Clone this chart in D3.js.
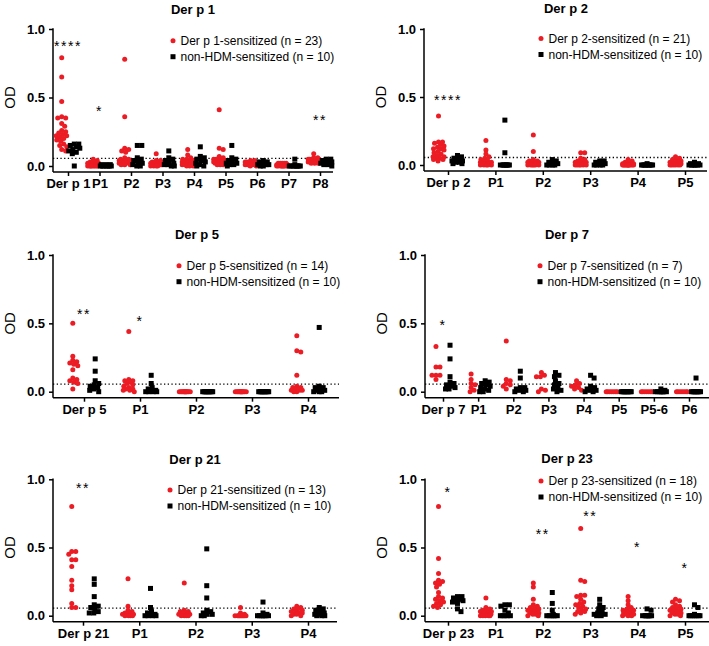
<!DOCTYPE html>
<html><head><meta charset="utf-8">
<script src="https://cdn.jsdelivr.net/npm/d3@7"></script>
<style>body{margin:0;background:#fff} svg{display:block}</style>
</head><body><svg id="chart" width="709" height="646"></svg>
<script>
// ---------------- DATA ----------------
const yTicks = [0, 0.5, 1.0];
const cutoff = 0.055;

// Der p 1
const derp1Title = "Der p 1";
const derp1Legend = ["Der p 1-sensitized (n = 23)", "non-HDM-sensitized (n = 10)"];
const derp1Categories = ["Der p 1","P1","P2","P3","P4","P5","P6","P7","P8"];
const derp1Sensitized = [
  [0.79,0.65,0.47,0.36,0.35,0.35,0.31,0.29,0.26,0.25,0.24,0.23,0.22,0.22,0.21,0.20,0.19,0.18,0.16,0.15,0.14,0.12,0.11],
  [0.05,0.04,0.03,0.03,0.02,0.02,0.02,0.02,0.01,0.01,0.01,0.01,0.01,0.01,0.01,0,0,0,0,0,0,0,0],
  [0.78,0.36,0.13,0.12,0.11,0.10,0.06,0.05,0.05,0.04,0.04,0.04,0.04,0.03,0.03,0.03,0.03,0.02,0.02,0.02,0.01,0.01,0.01],
  [0.09,0.04,0.04,0.03,0.03,0.03,0.03,0.02,0.02,0.02,0.02,0.02,0.02,0.01,0.01,0.01,0.01,0.01,0.01,0,0,0,0],
  [0.12,0.08,0.06,0.05,0.05,0.04,0.04,0.03,0.03,0.03,0.03,0.02,0.02,0.02,0.02,0.02,0.01,0.01,0.01,0.01,0,0,0],
  [0.41,0.13,0.12,0.07,0.06,0.05,0.05,0.05,0.04,0.04,0.04,0.04,0.03,0.03,0.03,0.03,0.02,0.02,0.02,0.02,0.01,0.01,0.01],
  [0.04,0.04,0.03,0.03,0.03,0.03,0.03,0.02,0.02,0.02,0.02,0.02,0.02,0.02,0.02,0.01,0.01,0.01,0.01,0.01,0.01,0,0],
  [0.02,0.02,0.02,0.02,0.02,0.01,0.01,0.01,0.01,0.01,0.01,0.01,0.01,0.01,0.01,0,0,0,0,0,0,0,0],
  [0.09,0.06,0.06,0.05,0.05,0.05,0.05,0.05,0.05,0.04,0.04,0.04,0.04,0.04,0.04,0.03,0.03,0.03,0.03,0.03,0.02,0.02,0.02]
];
const derp1NonHDM = [
  [0.16,0.16,0.15,0.14,0.13,0.12,0.11,0.10,0.09,0],
  [0.01,0.01,0.01,0,0,0,0,0,0,0],
  [0.15,0.15,0.06,0.05,0.04,0.03,0.02,0.01,0,0],
  [0.11,0.06,0.05,0.04,0.03,0.02,0.01,0.01,0,0],
  [0.14,0.07,0.06,0.05,0.04,0.03,0.02,0.01,0,0],
  [0.15,0.06,0.05,0.04,0.03,0.02,0.02,0.01,0.01,0],
  [0.04,0.03,0.03,0.02,0.02,0.01,0.01,0.01,0,0],
  [0.05,0.01,0,0,0,0,0,0,0,0],
  [0.05,0.05,0.04,0.04,0.03,0.03,0.02,0.01,0.01,0]
];
const derp1Stars = ["****","*","","","","","","","**"];
const derp1StarLevels = [0.90,0.42,0,0,0,0,0,0,0.36];

// Der p 2
const derp2Title = "Der p 2";
const derp2Legend = ["Der p 2-sensitized (n = 21)", "non-HDM-sensitized (n = 10)"];
const derp2Categories = ["Der p 2","P1","P2","P3","P4","P5"];
const derp2Sensitized = [
  [0.36,0.17,0.17,0.16,0.15,0.14,0.13,0.12,0.12,0.11,0.10,0.09,0.08,0.07,0.06,0.06,0.05,0.05,0.04,0.04,0.03],
  [0.18,0.11,0.08,0.06,0.05,0.04,0.03,0.02,0.02,0.02,0.02,0.01,0.01,0.01,0.01,0.01,0,0,0,0,0],
  [0.22,0.10,0.04,0.03,0.03,0.02,0.02,0.02,0.02,0.01,0.01,0.01,0.01,0.01,0.01,0,0,0,0,0,0],
  [0.09,0.09,0.05,0.04,0.03,0.03,0.02,0.02,0.02,0.02,0.01,0.01,0.01,0.01,0.01,0,0,0,0,0,0],
  [0.04,0.03,0.02,0.02,0.01,0.01,0.01,0.01,0.01,0,0,0,0,0,0,0,0,0,0,0,0],
  [0.06,0.05,0.04,0.03,0.03,0.02,0.02,0.02,0.02,0.01,0.01,0.01,0.01,0.01,0.01,0,0,0,0,0,0]
];
const derp2NonHDM = [
  [0.07,0.06,0.05,0.04,0.03,0.03,0.02,0.02,0.01,0.01],
  [0.33,0.09,0,0,0,0,0,0,0,0],
  [0.04,0.03,0.02,0.02,0.01,0.01,0,0,0,0],
  [0.03,0.03,0.02,0.02,0.01,0.01,0,0,0,0],
  [0.01,0,0,0,0,0,0,0,0,0],
  [0.02,0.01,0.01,0,0,0,0,0,0,0]
];
const derp2Stars = ["****","","","","",""];
const derp2StarLevels = [0.50,0,0,0,0,0];

// Der p 5
const derp5Title = "Der p 5";
const derp5Legend = ["Der p 5-sensitized (n = 14)", "non-HDM-sensitized (n = 10)"];
const derp5Categories = ["Der p 5","P1","P2","P3","P4"];
const derp5Sensitized = [
  [0.50,0.26,0.23,0.22,0.21,0.20,0.19,0.16,0.10,0.09,0.08,0.07,0.06,0.02],
  [0.44,0.09,0.08,0.08,0.07,0.06,0.05,0.04,0.03,0.02,0.02,0.01,0.01,0],
  [0,0,0,0,0,0,0,0,0,0,0,0,0,0],
  [0,0,0,0,0,0,0,0,0,0,0,0,0,0],
  [0.41,0.30,0.29,0.12,0.04,0.03,0.03,0.02,0.02,0.01,0.01,0.01,0,0]
];
const derp5NonHDM = [
  [0.24,0.15,0.08,0.06,0.05,0.04,0.03,0.02,0.01,0],
  [0.12,0.06,0.03,0.02,0.01,0.01,0,0,0,0],
  [0,0,0,0,0,0,0,0,0,0],
  [0,0,0,0,0,0,0,0,0,0],
  [0.47,0.04,0.03,0.03,0.02,0.01,0.01,0,0,0]
];
const derp5Stars = ["**","*","","",""];
const derp5StarLevels = [0.59,0.54,0,0,0];

// Der p 7
const derp7Title = "Der p 7";
const derp7Legend = ["Der p 7-sensitized (n = 7)", "non-HDM-sensitized (n = 10)"];
const derp7Categories = ["Der p 7","P1","P2","P3","P4","P5","P5-6","P6"];
const derp7Sensitized = [
  [0.33,0.18,0.18,0.12,0.12,0.12,0.09],
  [0.13,0.09,0.06,0.05,0.03,0.01,0],
  [0.37,0.09,0.08,0.06,0.05,0.04,0.02],
  [0.14,0.12,0.11,0.11,0.02,0.01,0],
  [0.08,0.06,0.05,0.04,0.03,0.02,0.01],
  [0,0,0,0,0,0,0],
  [0,0,0,0,0,0,0],
  [0,0,0,0,0,0,0]
];
const derp7NonHDM = [
  [0.34,0.24,0.11,0.07,0.06,0.05,0.04,0.03,0.02,0.02],
  [0.08,0.07,0.06,0.05,0.04,0.03,0.02,0.01,0,0],
  [0.15,0.10,0.03,0.03,0.02,0.02,0.01,0.01,0,0],
  [0.14,0.12,0.11,0.08,0.06,0.05,0.03,0.02,0.01,0],
  [0.12,0.10,0.04,0.03,0.02,0.02,0.01,0.01,0,0],
  [0,0,0,0,0,0,0,0,0,0],
  [0.02,0.01,0,0,0,0,0,0,0,0],
  [0.10,0,0,0,0,0,0,0,0,0]
];
const derp7Stars = ["*","","","","","","",""];
const derp7StarLevels = [0.51,0,0,0,0,0,0,0];

// Der p 21
const derp21Title = "Der p 21";
const derp21Legend = ["Der p 21-sensitized (n = 13)", "non-HDM-sensitized (n = 10)"];
const derp21Categories = ["Der p 21","P1","P2","P3","P4"];
const derp21Sensitized = [
  [0.80,0.47,0.47,0.45,0.41,0.41,0.36,0.26,0.22,0.19,0.09,0.06,0.06],
  [0.27,0.07,0.04,0.03,0.02,0.02,0.01,0.01,0.01,0,0,0,0],
  [0.24,0.04,0.03,0.03,0.02,0.02,0.01,0.01,0.01,0,0,0,0],
  [0.06,0.02,0.01,0,0,0,0,0,0,0,0,0,0],
  [0.07,0.06,0.05,0.05,0.04,0.03,0.03,0.02,0.02,0.01,0.01,0,0]
];
const derp21NonHDM = [
  [0.27,0.23,0.14,0.08,0.07,0.06,0.05,0.03,0.02,0.02],
  [0.20,0.06,0.03,0.02,0.01,0.01,0,0,0,0],
  [0.49,0.22,0.13,0.04,0.03,0.02,0.01,0.01,0,0],
  [0.10,0.02,0.01,0,0,0,0,0,0,0],
  [0.06,0.05,0.04,0.03,0.02,0.01,0.01,0,0,0]
];
const derp21Stars = ["**","","","",""];
const derp21StarLevels = [0.955,0,0,0,0];

// Der p 23
const derp23Title = "Der p 23";
const derp23Legend = ["Der p 23-sensitized (n = 18)", "non-HDM-sensitized (n = 10)"];
const derp23Categories = ["Der p 23","P1","P2","P3","P4","P5"];
const derp23Sensitized = [
  [0.80,0.42,0.31,0.26,0.25,0.24,0.23,0.21,0.17,0.14,0.13,0.12,0.11,0.10,0.09,0.08,0.07,0.06],
  [0.13,0.06,0.05,0.04,0.04,0.03,0.03,0.02,0.02,0.01,0.01,0.01,0.01,0,0,0,0,0],
  [0.24,0.21,0.12,0.08,0.07,0.06,0.05,0.05,0.04,0.04,0.03,0.03,0.02,0.02,0.01,0.01,0,0],
  [0.64,0.26,0.25,0.15,0.15,0.14,0.12,0.10,0.09,0.08,0.07,0.06,0.05,0.04,0.03,0.03,0.02,0.01],
  [0.14,0.11,0.08,0.06,0.05,0.04,0.04,0.03,0.03,0.02,0.02,0.02,0.01,0.01,0.01,0,0,0],
  [0.12,0.11,0.10,0.08,0.07,0.06,0.05,0.05,0.04,0.04,0.03,0.03,0.02,0.02,0.01,0.01,0,0]
];
const derp23NonHDM = [
  [0.14,0.14,0.13,0.12,0.12,0.11,0.10,0.09,0.05,0.03],
  [0.08,0.08,0.07,0.04,0.02,0,0,0,0,0],
  [0.17,0.09,0.04,0.01,0,0,0,0,0,0],
  [0.12,0.08,0.06,0.05,0.03,0.02,0.01,0.01,0,0],
  [0.05,0.04,0,0,0,0,0,0,0,0],
  [0.08,0.06,0.01,0,0,0,0,0,0,0]
];
const derp23Stars = ["*","","**","**","*","*"];
const derp23StarLevels = [0.93,0,0.62,0.755,0.525,0.37];

// ---------------- LAYOUT ----------------
const FONT = "Arial, 'Liberation Sans', Helvetica, sans-serif";
const RED = "#ec1c24";
const panels = [
  {title:derp1Title, legend:derp1Legend, cats:derp1Categories, sens:derp1Sensitized, non:derp1NonHDM, stars:derp1Stars, starLv:derp1StarLevels,
   left:53, right:333, top:29, zero:166, c0:68, c1:320, titleX:193, titleY:13.5, lgX:173, lgY:40.7},
  {title:derp2Title, legend:derp2Legend, cats:derp2Categories, sens:derp2Sensitized, non:derp2NonHDM, stars:derp2Stars, starLv:derp2StarLevels,
   left:424, right:707, top:29, zero:165, c0:448, c1:685, titleX:566, titleY:12.5, lgX:541, lgY:38.5},
  {title:derp5Title, legend:derp5Legend, cats:derp5Categories, sens:derp5Sensitized, non:derp5NonHDM, stars:derp5Stars, starLv:derp5StarLevels,
   left:53, right:339, top:255, zero:391.7, c0:84, c1:308, titleX:197, titleY:239, lgX:179, lgY:265.7},
  {title:derp7Title, legend:derp7Legend, cats:derp7Categories, sens:derp7Sensitized, non:derp7NonHDM, stars:derp7Stars, starLv:derp7StarLevels,
   left:425, right:709, top:255, zero:391.7, c0:443, c1:689, titleX:567, titleY:239, lgX:540, lgY:265.7},
  {title:derp21Title, legend:derp21Legend, cats:derp21Categories, sens:derp21Sensitized, non:derp21NonHDM, stars:derp21Stars, starLv:derp21StarLevels,
   left:53, right:337, top:479.3, zero:615.7, c0:83, c1:308, titleX:195, titleY:464.3, lgX:170, lgY:490},
  {title:derp23Title, legend:derp23Legend, cats:derp23Categories, sens:derp23Sensitized, non:derp23NonHDM, stars:derp23Stars, starLv:derp23StarLevels,
   left:425, right:709, top:479.3, zero:615.7, c0:448, c1:685, titleX:567, titleY:463.3, lgX:541, lgY:481}
];

const svg = d3.select("#chart");

function swarm(values, cx, yScale, maxOff, minD) {
  const pts = values.map(v => ({v, y: yScale(v)})).sort((a, b) => a.y - b.y);
  const placed = [];
  pts.forEach(p => {
    let best = 0, bestScore = -Infinity, done = false;
    for (let k = 0; k * 0.5 <= maxOff && !done; k++) {
      const offs = k === 0 ? [0] : [k * 0.5, -k * 0.5];
      for (const o of offs) {
        let md = Infinity;
        for (const q of placed) {
          const d = Math.hypot(q.x - (cx + o), q.y - p.y);
          if (d < md) md = d;
        }
        if (md >= minD) { best = o; done = true; break; }
        if (md > bestScore) { bestScore = md; best = o; }
      }
    }
    p.x = cx + best;
    placed.push(p);
  });
  return pts;
}

panels.forEach(P => {
  const g = svg.append("g");
  const y = d3.scaleLinear().domain([0, 1]).range([P.zero, P.top]);
  const x = d3.scalePoint().domain(P.cats).range([P.c0, P.c1]);
  const step = (P.c1 - P.c0) / (P.cats.length - 1);
  const axisY = P.zero + 6;

  // title
  g.append("text").attr("x", P.titleX).attr("y", P.titleY).attr("text-anchor", "middle")
    .attr("font-family", FONT).attr("font-size", 13).attr("font-weight", "bold").text(P.title);

  // OD label
  g.append("text").attr("transform", `translate(${P.left - 38},${(P.top + P.zero) / 2}) rotate(-90)`)
    .attr("text-anchor", "middle").attr("font-family", FONT).attr("font-size", 15).text("OD");

  // y axis
  const yAxis = d3.axisLeft(y).tickValues(yTicks).tickFormat(d3.format(".1f")).tickSize(4).tickPadding(4);
  const ya = g.append("g").attr("transform", `translate(${P.left},0)`).call(yAxis);
  ya.select(".domain").remove();
  ya.selectAll("line").attr("stroke", "#000").attr("stroke-width", 1.5);
  ya.selectAll("text").attr("font-family", FONT).attr("font-size", 13).attr("font-weight", "bold").attr("fill", "#000");
  g.append("line").attr("x1", P.left).attr("x2", P.left).attr("y1", y(1) - 0.75).attr("y2", axisY)
    .attr("stroke", "#000").attr("stroke-width", 1.5);

  // x axis
  const xAxis = d3.axisBottom(x).tickSize(4).tickPadding(3);
  const xa = g.append("g").attr("transform", `translate(0,${axisY})`).call(xAxis);
  xa.select(".domain").remove();
  xa.selectAll("line").attr("stroke", "#000").attr("stroke-width", 1.5);
  xa.selectAll("text").attr("font-family", FONT).attr("font-size", 13).attr("font-weight", "bold").attr("fill", "#000");
  g.append("line").attr("x1", P.left).attr("x2", P.right).attr("y1", axisY).attr("y2", axisY)
    .attr("stroke", "#000").attr("stroke-width", 1.5);

  // cutoff dotted line
  g.append("line").attr("x1", P.left).attr("x2", P.right).attr("y1", y(cutoff)).attr("y2", y(cutoff))
    .attr("stroke", "#000").attr("stroke-width", 1.3).attr("stroke-dasharray", "1.3,2.4");

  const maxOff = Math.min(5.5, step * 0.19);
  // points
  P.cats.forEach((c, i) => {
    const cxR = x(c) - step * 0.2, cxB = x(c) + step * 0.2;
    const rp = swarm(P.sens[i], cxR, y, maxOff, 4.0);
    g.selectAll(null).data(rp).enter().append("circle")
      .attr("cx", d => d.x).attr("cy", d => d.y).attr("r", 2.5).attr("fill", RED);
    const bp = swarm(P.non[i], cxB, y, maxOff, 4.2);
    g.selectAll(null).data(bp).enter().append("rect")
      .attr("x", d => d.x - 2.5).attr("y", d => d.y - 2.5).attr("width", 5).attr("height", 5).attr("fill", "#000");
    if (P.stars[i]) {
      g.append("text").attr("x", x(c)).attr("y", y(P.starLv[i]) + 8).attr("text-anchor", "middle")
        .attr("font-family", FONT).attr("font-size", 14).attr("letter-spacing", "1.5px").text(P.stars[i]);
    }
  });

  // legend
  const lg = g.append("g");
  lg.append("circle").attr("cx", P.lgX).attr("cy", P.lgY).attr("r", 2.5).attr("fill", RED);
  lg.append("rect").attr("x", P.lgX - 2.5).attr("y", P.lgY + 16 - 2.5).attr("width", 5).attr("height", 5).attr("fill", "#000");
  P.legend.forEach((t, j) => {
    lg.append("text").attr("x", P.lgX + 7.5).attr("y", P.lgY + 16 * j + 4.2)
      .attr("font-family", FONT).attr("font-size", 12).attr("fill", "#000").text(t);
  });
});
</script></body></html>
